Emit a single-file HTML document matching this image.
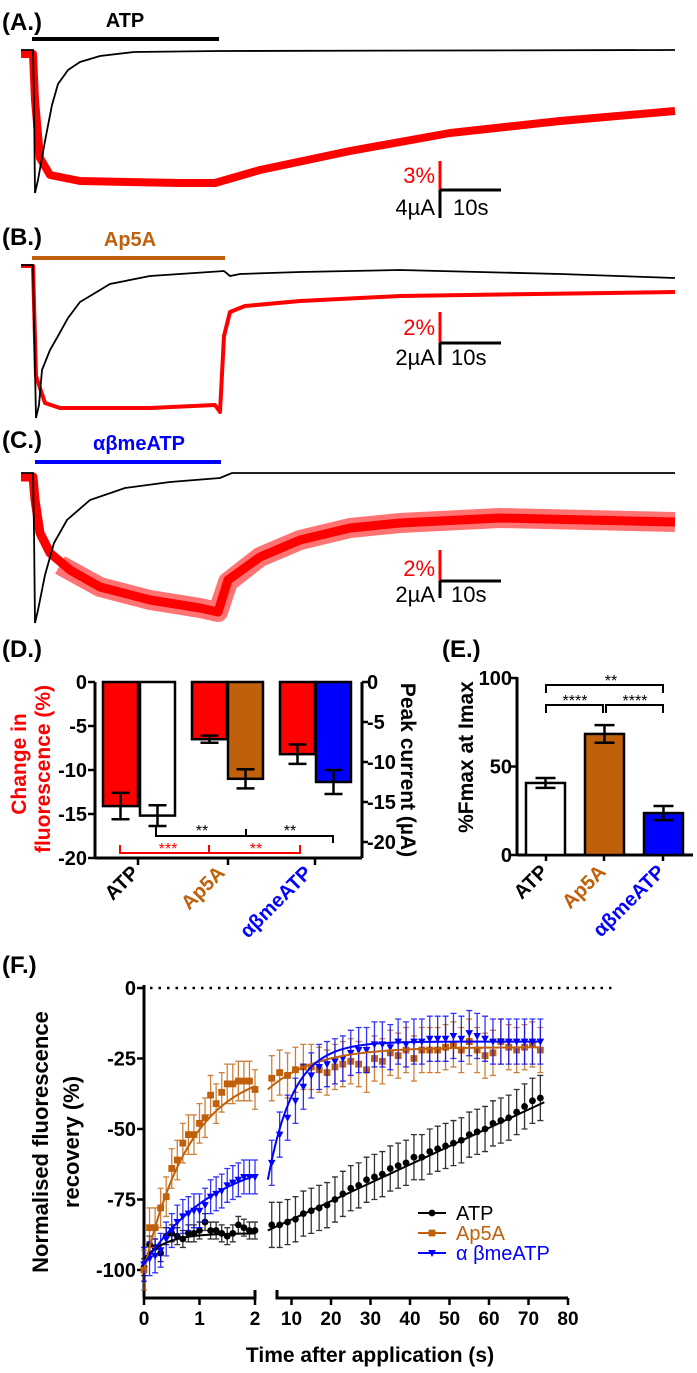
<!DOCTYPE html>
<html><head><meta charset="utf-8"><style>
html,body{margin:0;padding:0;background:#fff}
svg{display:block;font-family:"Liberation Sans",Arial,sans-serif}
.b{font-weight:bold}
</style></head><body>
<svg id="fig" width="697" height="1373" viewBox="0 0 697 1373">
<!-- Panel A -->
<g>
<text x="2" y="30" font-size="24" class="b">(A.)</text>
<line x1="32" y1="39" x2="219" y2="39" stroke="#000" stroke-width="4"/>
<text x="125" y="27" font-size="20" class="b" text-anchor="middle">ATP</text>
<polyline fill="none" stroke="#ff0000" stroke-width="8" stroke-linejoin="round" points="21,54 33,54 35,100 40,158 50,175 80,181 180,183 215,183 260,170 350,151 450,133 560,121 675,111"/>
<polyline fill="none" stroke="#000" stroke-width="1.8" points="21,50 33,50 34,100 35,193 38,180 45,141 52,105 58,84 68,70 80,62 100,56 134,52 220,51 675,50"/>
<line x1="440" y1="161" x2="440" y2="190" stroke="#ff0000" stroke-width="3"/>
<line x1="440" y1="190" x2="440" y2="218" stroke="#000" stroke-width="3"/>
<line x1="440" y1="190" x2="501" y2="190" stroke="#000" stroke-width="3"/>
<text x="435" y="183" font-size="22" fill="#ff0000" text-anchor="end">3%</text>
<text x="435" y="215" font-size="22" text-anchor="end">4µA</text>
<text x="453" y="215" font-size="22">10s</text>
</g>
<!-- Panel B -->
<g>
<text x="2" y="245" font-size="24" class="b">(B.)</text>
<line x1="32" y1="258" x2="225" y2="258" stroke="#c0600a" stroke-width="4"/>
<text x="130" y="246" font-size="20" class="b" fill="#c0600a" text-anchor="middle">Ap5A</text>
<polyline fill="none" stroke="#ff0000" stroke-width="4" stroke-linejoin="round" points="21,266 33,266 36,376 45,403 60,408 150,408 215,405 220,412 224,336 230,312 245,306 300,301 400,296 675,292"/>
<polyline fill="none" stroke="#000" stroke-width="1.8" points="21,265 33,265 34,320 36,418 39,405 42,370 50,350 58,336 68,318 80,302 110,284 150,276 224,271 230,276 240,274 300,272 400,270 560,274 675,278"/>
<line x1="440" y1="312" x2="440" y2="343" stroke="#ff0000" stroke-width="3"/>
<line x1="440" y1="343" x2="440" y2="365" stroke="#000" stroke-width="3"/>
<line x1="440" y1="343" x2="501" y2="343" stroke="#000" stroke-width="3"/>
<text x="435" y="335" font-size="22" fill="#ff0000" text-anchor="end">2%</text>
<text x="435" y="365" font-size="22" text-anchor="end">2µA</text>
<text x="451" y="365" font-size="22">10s</text>
</g>
<!-- Panel C -->
<g>
<text x="2" y="448" font-size="24" class="b">(C.)</text>
<line x1="35" y1="462" x2="221" y2="462" stroke="#0000ff" stroke-width="4"/>
<text x="139" y="450" font-size="20" class="b" fill="#0000ff" text-anchor="middle">αβmeATP</text>
<polyline fill="none" stroke="#ff0000" stroke-width="9" stroke-linejoin="round" points="21,477 33,477 35,500 40,533 50,553 70,570 100,587 150,600 200,608 218,612 228,580 260,557 300,540 350,528 400,523 500,518 675,522"/>
<polyline fill="none" stroke="#ff0000" stroke-width="20" stroke-opacity="0.55" stroke-linejoin="round" points="60,565 100,587 150,600 200,608 218,612 228,582 260,557 300,540 350,528 400,523 500,518 675,522"/>
<polyline fill="none" stroke="#000" stroke-width="1.8" points="21,473 33,473 34,530 35,623 38,610 45,575 54,543 67,520 90,500 125,488 170,482 220,478 232,473 675,473"/>
<line x1="440" y1="550" x2="440" y2="581" stroke="#ff0000" stroke-width="3"/>
<line x1="440" y1="581" x2="440" y2="598" stroke="#000" stroke-width="3"/>
<line x1="440" y1="581" x2="501" y2="581" stroke="#000" stroke-width="3"/>
<text x="435" y="576" font-size="22" fill="#ff0000" text-anchor="end">2%</text>
<text x="435" y="602" font-size="22" text-anchor="end">2µA</text>
<text x="451" y="602" font-size="22">10s</text>
</g>
<!-- Panel D static text -->
<text x="2" y="657" font-size="24" class="b">(D.)</text>
<text transform="translate(26,764) rotate(-90)" font-size="21" class="b" fill="#ff0000" text-anchor="middle">Change in</text>
<text transform="translate(50,769) rotate(-90)" font-size="21" class="b" fill="#ff0000" text-anchor="middle">fluorescence (%)</text>
<text transform="translate(401,770) rotate(90)" font-size="21" class="b" text-anchor="middle">Peak current (µA)</text>
<text transform="translate(140,874) rotate(-45)" font-size="20" class="b" text-anchor="end">ATP</text>
<text transform="translate(226,874) rotate(-45)" font-size="20" class="b" fill="#c0600a" text-anchor="end">Ap5A</text>
<text transform="translate(313,874) rotate(-45)" font-size="20" class="b" fill="#0000ff" text-anchor="end">αβmeATP</text>
<!-- Panel E static text -->
<text x="442" y="657" font-size="24" class="b">(E.)</text>
<text transform="translate(473,757) rotate(-90)" font-size="21" class="b" text-anchor="middle">%Fmax at Imax</text>
<text transform="translate(549,873) rotate(-45)" font-size="20" class="b" text-anchor="end">ATP</text>
<text transform="translate(607,873) rotate(-45)" font-size="20" class="b" fill="#c0600a" text-anchor="end">Ap5A</text>
<text transform="translate(666,873) rotate(-45)" font-size="20" class="b" fill="#0000ff" text-anchor="end">αβmeATP</text>
<!-- Panel F static text -->
<text x="2" y="973" font-size="24" class="b">(F.)</text>
<text transform="translate(48,1142) rotate(-90)" font-size="22" class="b" text-anchor="middle">Normalised fluorescence</text>
<text transform="translate(79,1142) rotate(-90)" font-size="22" class="b" text-anchor="middle">recovery (%)</text>
<text x="370" y="1362" font-size="21" class="b" text-anchor="middle">Time after application (s)</text>
<g id="dplot"></g>
<g id="eplot"></g>
<g id="fplot"></g>
</svg>
<script>
// ---------- Panel D data ----------
const dFluorValues = [-14.1, -6.5, -8.2];
const dFluorErr = [1.5, 0.4, 1.1];
const dCurrentValues = [-16.7, -12.1, -12.5];
const dCurrentErr = [1.3, 1.2, 1.5];
const dLeftTicks = [0, -5, -10, -15, -20];
const dRightTicks = [0, -5, -10, -15, -20];
// ---------- Panel E data ----------
const eCategories = ['ATP', 'Ap5A', 'abmeATP'];
const eValues = [40.7, 68.4, 23.7];
const eErr = [2.8, 5, 4];
const eTicks = [0, 50, 100];
// ---------- Panel F data ----------
const fTicks1 = [0, 1, 2];
const fTicks2 = [10, 20, 30, 40, 50, 60, 70, 80];
const fYTicks = [0, -25, -50, -75, -100];
const fSeg1Times = [0,0.1,0.2,0.3,0.4,0.5,0.6,0.7,0.8,0.9,1.0,1.1,1.2,1.3,1.4,1.5,1.6,1.7,1.8,1.9,2.0];
const fAtp1 = [-99,-91,-92,-94,-88,-87,-88,-89,-87,-87,-86,-83,-86,-86,-87,-88,-87,-84,-85,-86,-86];
const fAp5a1 = [-100,-85,-85,-78,-74,-64,-61,-55,-52,-52,-48,-46,-38,-41,-37,-34,-34,-33,-33,-33,-36];
const fAbme1 = [-98,-96,-95,-93,-89,-86,-83,-81,-80,-79,-79,-77,-74,-73,-72,-70,-69,-68,-67,-67,-67];
const fSeg2Times = [5,7,9,11,13,15,17,19,21,23,25,27,29,31,33,35,37,39,41,43,45,47,49,51,53,55,57,59,61,63,65,67,69,71,73];
const fAtp2 = [-84,-84,-83,-82,-80,-79,-78,-77,-75,-73,-71,-70,-68,-67,-66,-64,-63,-62,-60,-60,-58,-57,-56,-55,-54,-52,-51,-50,-48,-47,-46,-44,-42,-40,-39];
const fAp5a2 = [-32,-30,-31,-29,-28,-28,-29,-30,-28,-27,-26,-27,-29,-25,-26,-23,-24,-22,-25,-22,-22,-22,-21,-20,-22,-19,-22,-24,-23,-19,-21,-22,-21,-20,-22];
const fAbme2 = [-62,-52,-46,-40,-35,-31,-28,-27,-26,-25,-23,-22,-22,-20,-20,-21,-19,-20,-19,-19,-18,-18,-18,-17,-18,-16,-17,-18,-19,-19,-19,-19,-19,-19,-19];
const fErrAtp = [3, 8];
const fErrAp5a = [7, 8];
const fErrAbme = [6, 8];

const NS = 'http://www.w3.org/2000/svg';
function mk(parent, tag, attrs) {
  const e = document.createElementNS(NS, tag);
  for (const k in attrs) e.setAttribute(k, attrs[k]);
  parent.appendChild(e);
  return e;
}
const RED = '#ff0000', BROWN = '#c0600a', BLUE = '#0000ff';

// ---------- Panel D ----------
(function(){
  const g = document.getElementById('dplot');
  const yL = v => 682 + (v / -20) * 176;
  const yR = v => 682 + (v / -20) * 160;
  const axL = mk(g, 'line', {x1:95, y1:682, x2:95, y2:858, stroke:'#000', 'stroke-width':3});
  
  
  const axR = mk(g, 'line', {x1:362, y1:682, x2:362, y2:858, stroke:'#000', 'stroke-width':3});
  
  
  const axX = mk(g, 'line', {x1:95, y1:858, x2:362, y2:858, stroke:'#000', 'stroke-width':3});
  
  
  [138, 228, 315].forEach(x => {
    const t = mk(g, 'line', {x1:x, y1:858, x2:x, y2:865, stroke:'#000', 'stroke-width':2.5});
    
    
  });
  dLeftTicks.forEach(t => {
    const y = yL(t);
    const l = mk(g, 'line', {x1:88, y1:y, x2:95, y2:y, stroke:'#000', 'stroke-width':2.5});
    
    
    const tx = mk(g, 'text', {x:87, y:y+7, 'font-size':20, 'font-weight':'bold', 'text-anchor':'end'});
    tx.textContent = t;
    
    
  });
  dRightTicks.forEach(t => {
    const y = yR(t);
    const l = mk(g, 'line', {x1:362, y1:y, x2:368, y2:y, stroke:'#000', 'stroke-width':2.5});
    
    
    const tx = mk(g, 'text', {x:367, y:y+7, 'font-size':20, 'font-weight':'bold'});
    tx.textContent = t;
    
    
  });
  const redX = [103, 192, 280];
  const curX = [140, 228, 316];
  const curFill = ['#fff', BROWN, BLUE];
  const bw = 35;
  function bar(x, v, err, fill, yf, name) {
    const y = yf(v);
    const r = mk(g, 'rect', {x:x, y:682, width:bw, height:y-682, fill:fill, stroke:'#000', 'stroke-width':2.5});
    
    
    const cx = x + bw/2, y1 = yf(v - err), y0 = yf(v + err);
    const e = mk(g, 'path', {d:`M${cx},${y0}V${y1}M${cx-9},${y0}H${cx+9}M${cx-9},${y1}H${cx+9}`, stroke:'#000', 'stroke-width':2.5, fill:'none'});
    
    
  }
  dFluorValues.forEach((v,i) => bar(redX[i], v, dFluorErr[i], RED, yL, 'd-fluorescence-bar'));
  dCurrentValues.forEach((v,i) => bar(curX[i], v, dCurrentErr[i], curFill[i], yR, 'd-current-bar'));
  const bk = mk(g, 'path', {d:'M156,826V836H333V843M246,836V829', stroke:'#000', 'stroke-width':2, fill:'none'});
  
  
  [[202,'**'],[290,'**']].forEach(s => {
    const t = mk(g, 'text', {x:s[0], y:836, 'font-size':16, 'text-anchor':'middle'});
    t.textContent = s[1];
    
    
  });
  const rb = mk(g, 'path', {d:'M120,845V853H300V845M209,853V845', stroke:RED, 'stroke-width':2, fill:'none'});
  
  
  [[168,'***'],[256,'**']].forEach(s => {
    const t = mk(g, 'text', {x:s[0], y:854, 'font-size':16, fill:RED, 'text-anchor':'middle'});
    t.textContent = s[1];
    
    
  });
})();

// ---------- Panel E ----------
(function(){
  const g = document.getElementById('eplot');
  const y = v => 855 - v * 1.77;
  const ax = mk(g, 'line', {x1:517, y1:677, x2:517, y2:855, stroke:'#000', 'stroke-width':3});
  
  
  const ax2 = mk(g, 'line', {x1:517, y1:855, x2:693, y2:855, stroke:'#000', 'stroke-width':3});
  
  
  [546, 604, 663].forEach(x => {
    const t = mk(g, 'line', {x1:x, y1:855, x2:x, y2:861, stroke:'#000', 'stroke-width':2.5});
    
    
  });
  eTicks.forEach(t => {
    const l = mk(g, 'line', {x1:511, y1:y(t), x2:517, y2:y(t), stroke:'#000', 'stroke-width':2.5});
    
    
    const tx = mk(g, 'text', {x:512, y:y(t)+7, 'font-size':20, 'font-weight':'bold', 'text-anchor':'end'});
    tx.textContent = t;
    
    
  });
  const xs = [526, 585, 644];
  const fills = ['#fff', BROWN, BLUE];
  eValues.forEach((v,i) => {
    const r = mk(g, 'rect', {x:xs[i], y:y(v), width:39, height:855-y(v), fill:fills[i], stroke:'#000', 'stroke-width':2.5});
    
    
    const cx = xs[i]+19.5, a = y(v+eErr[i]), b = y(v-eErr[i]);
    const e = mk(g, 'path', {d:`M${cx},${a}V${b}M${cx-10},${a}H${cx+10}M${cx-10},${b}H${cx+10}`, stroke:'#000', 'stroke-width':2.5, fill:'none'});
    
    
  });
  const br = mk(g, 'path', {d:'M546,693V685H663V693M546,713V705H603V713M606,713V705H663V713', stroke:'#000', 'stroke-width':2, fill:'none'});
  
  
  [[611,686,'**'],[575,706,'****'],[635,706,'****']].forEach(s => {
    const t = mk(g, 'text', {x:s[0], y:s[1], 'font-size':16, 'text-anchor':'middle'});
    t.textContent = s[2];
    
    
  });
})();

// ---------- Panel F ----------
(function(){
  const g = document.getElementById('fplot');
  const X1 = t => 144 + t * 55.5;
  const X2 = t => 252 + t * 3.95;
  const yv = v => 988 + (-v) * 2.82;
  const ax = mk(g, 'line', {x1:144, y1:985, x2:144, y2:1298, stroke:'#000', 'stroke-width':3});
  
  
  const xa1 = mk(g, 'path', {d:'M143,1298H255V1290', stroke:'#000', 'stroke-width':3, fill:'none'});
  
  
  const xa2 = mk(g, 'path', {d:'M277,1290V1298H568', stroke:'#000', 'stroke-width':3, fill:'none'});
  
  
  const zl = mk(g, 'line', {x1:150, y1:988, x2:612, y2:988, stroke:'#000', 'stroke-width':2.5, 'stroke-dasharray':'2.5 6'});
  
  
  fYTicks.forEach(t => {
    const l = mk(g, 'line', {x1:137, y1:yv(t), x2:144, y2:yv(t), stroke:'#000', 'stroke-width':2.5});
    
    
    const tx = mk(g, 'text', {x:136, y:yv(t)+7, 'font-size':20, 'font-weight':'bold', 'text-anchor':'end'});
    tx.textContent = t;
    
    
  });
  function xtick(x, t) {
    const l = mk(g, 'line', {x1:x, y1:1298, x2:x, y2:1305, stroke:'#000', 'stroke-width':2.5});
    
    
    const tx = mk(g, 'text', {x:x, y:1325, 'font-size':19, 'font-weight':'bold', 'text-anchor':'middle'});
    tx.textContent = t;
    
    
  }
  fTicks1.forEach(t => xtick(X1(t), t));
  fTicks2.forEach(t => xtick(X2(t), t));

  function marker(x, y, shape, color) {
    let m;
    if (shape === 'circle') m = mk(g, 'circle', {cx:x, cy:y, r:3.4, fill:color});
    else if (shape === 'square') m = mk(g, 'rect', {x:x-3.4, y:y-3.4, width:6.8, height:6.8, fill:color});
    else m = mk(g, 'path', {d:`M${x-3.8},${y-3}H${x+3.8}L${x},${y+4}Z`, fill:color});
    
    
  }
  function series(times, vals, xf, err, color, shape, name) {
    times.forEach((t,i) => {
      const x = xf(t), a = yv(vals[i]+err), b = yv(vals[i]-err);
      const e = mk(g, 'path', {d:`M${x},${a}V${b}M${x-3},${a}H${x+3}M${x-3},${b}H${x+3}`, stroke:color, 'stroke-width':1.3, fill:'none', opacity:0.8});
      
      
    });
    times.forEach((t,i) => marker(xf(t), yv(vals[i]), shape, color));
  }
  function fit(t0, t1, xf, fn, color, name) {
    const pts = [];
    for (let k = 0; k <= 60; k++) { const t = t0 + (t1-t0)*k/60; pts.push(xf(t) + ',' + yv(fn(t))); }
    const p = mk(g, 'polyline', {points:pts.join(' '), fill:'none', stroke:color, 'stroke-width':2});
    
    
  }
  series(fSeg1Times, fAtp1, X1, fErrAtp[0], '#000', 'circle', 'f-atp');
  series(fSeg1Times, fAp5a1, X1, fErrAp5a[0], BROWN, 'square', 'f-ap5a');
  series(fSeg1Times, fAbme1, X1, fErrAbme[0], BLUE, 'tri', 'f-abmeatp');
  series(fSeg2Times, fAtp2, X2, fErrAtp[1], '#000', 'circle', 'f-atp');
  series(fSeg2Times, fAp5a2, X2, fErrAp5a[1], BROWN, 'square', 'f-ap5a');
  series(fSeg2Times, fAbme2, X2, fErrAbme[1], BLUE, 'tri', 'f-abmeatp');
  fit(0, 2.0, X1, t => -96 + 9*(1-Math.exp(-t/0.4)), '#000', 'f-atp-fit-1');
  fit(0, 2.0, X1, t => -100 + 72*(1-Math.exp(-t/0.85)), BROWN, 'f-ap5a-fit-1');
  fit(0, 2.0, X1, t => -98 + 40*(1-Math.exp(-t/1.3)), BLUE, 'f-abmeatp-fit-1');
  fit(4, 74, X2, t => -86 + 0.65*(t-4), '#000', 'f-atp-fit-2');
  fit(4, 73, X2, t => -36 + 15*(1-Math.exp(-(t-4)/12)), BROWN, 'f-ap5a-fit-2');
  fit(4, 73, X2, t => -68 + 49*(1-Math.exp(-(t-4)/6.5)), BLUE, 'f-abmeatp-fit-2');

  const legend = [['ATP','#000','circle',1213],['Ap5A',BROWN,'square',1233],['α βmeATP',BLUE,'tri',1253]];
  legend.forEach(L => {
    const l = mk(g, 'line', {x1:418, y1:L[3], x2:446, y2:L[3], stroke:L[1], 'stroke-width':2});
    
    
    marker(432, L[3], L[2], L[1]);
    const tx = mk(g, 'text', {x:456, y:L[3]+7, 'font-size':20, fill:L[1]});
    tx.textContent = L[0];
    
    
  });
})();
</script>
</body></html>
